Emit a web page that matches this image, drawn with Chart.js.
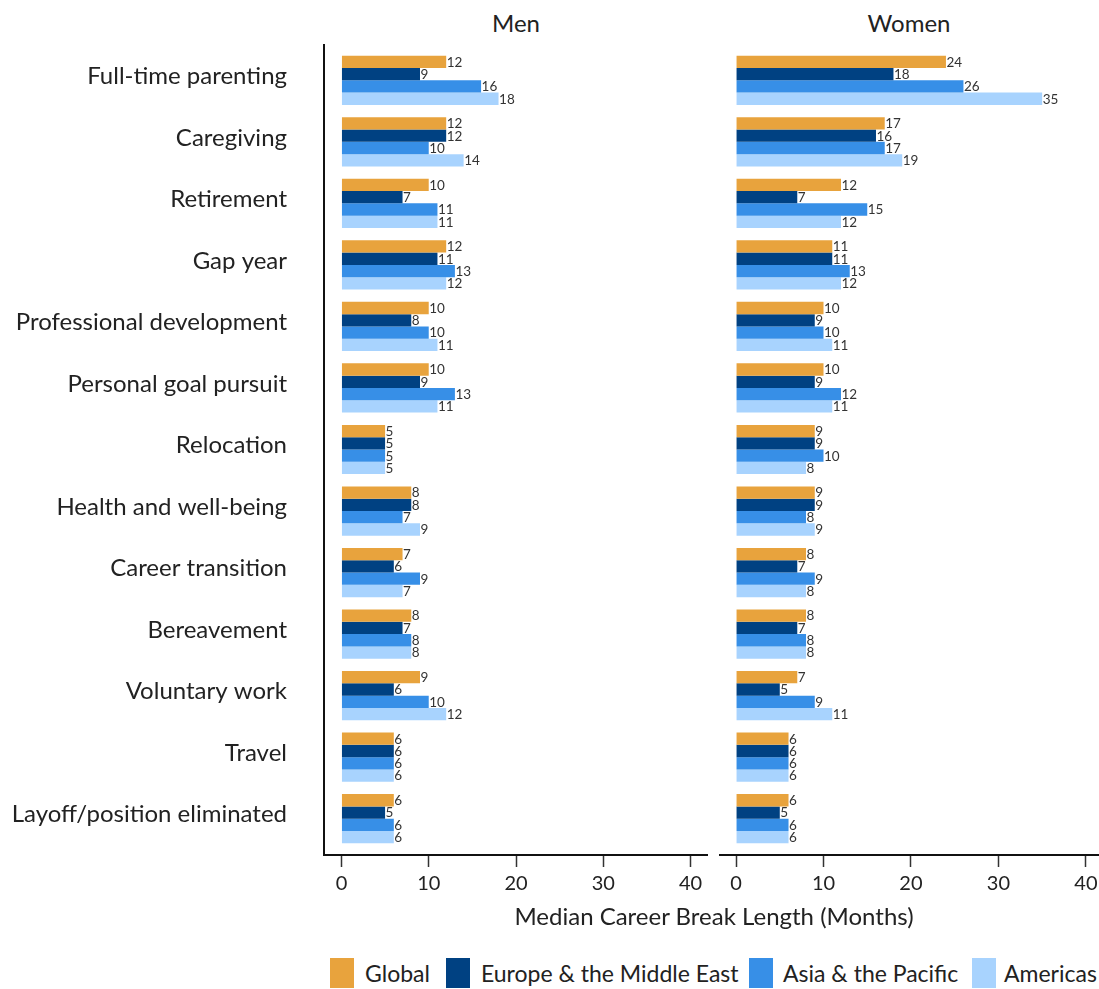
<!DOCTYPE html>
<html>
<head>
<meta charset="utf-8">
<script src="https://cdn.jsdelivr.net/npm/chart.js@4"></script>
<style>
  html, body { margin: 0; padding: 0; background: #fff; }
  body { width: 1099px; height: 989px; position: relative; overflow: hidden; font-family: Lato, "DejaVu Sans", sans-serif; color: #222; }
  .box { position: absolute; }
  .title { position: absolute; font-size: 24px; transform: translate(-50%, -50%); white-space: nowrap; }
  .leg { position: absolute; top: 958px; height: 30px; display: flex; align-items: center; font-size: 23px; white-space: nowrap; }
  .sw { position: absolute; top: 958px; width: 24px; height: 30px; }
</style>
</head>
<body>
<div class="title" style="left:516px;top:22px">Men</div>
<div class="title" style="left:909px;top:22px">Women</div>
<div class="box" style="left:0;top:44px;width:708px;height:861px"><canvas id="men"></canvas></div>
<div class="box" style="left:719px;top:44px;width:380px;height:861px"><canvas id="women"></canvas></div>
<div class="title" style="left:714px;top:915px;font-size:24px">Median Career Break Length (Months)</div>
<div id="legend"></div>
<script>
const categories = ["Full-time parenting", "Caregiving", "Retirement", "Gap year", "Professional development", "Personal goal pursuit", "Relocation", "Health and well-being", "Career transition", "Bereavement", "Voluntary work", "Travel", "Layoff/position eliminated"];
const seriesNames = ["Global", "Europe & the Middle East", "Asia & the Pacific", "Americas"];
const seriesColors = ["#E8A33D", "#004182", "#378FE7", "#A8D3FE"];

const menGlobal   = [12, 12, 10, 12, 10, 10, 5, 8, 7, 8, 9, 6, 6];
const menEurope   = [9, 12, 7, 11, 8, 9, 5, 8, 6, 7, 6, 6, 5];
const menAsia     = [16, 10, 11, 13, 10, 13, 5, 7, 9, 8, 10, 6, 6];
const menAmericas = [18, 14, 11, 12, 11, 11, 5, 9, 7, 8, 12, 6, 6];

const womenGlobal   = [24, 17, 12, 11, 10, 10, 9, 9, 8, 8, 7, 6, 6];
const womenEurope   = [18, 16, 7, 11, 9, 9, 9, 9, 7, 7, 5, 6, 5];
const womenAsia     = [26, 17, 15, 13, 10, 12, 10, 8, 9, 8, 9, 6, 6];
const womenAmericas = [35, 19, 12, 12, 11, 11, 8, 9, 8, 8, 11, 6, 6];

const xTicks = [0, 10, 20, 30, 40];

const labelPlugin = {
  id: 'barLabels',
  afterDatasetsDraw(chart) {
    const ctx = chart.ctx;
    ctx.save();
    ctx.font = '13.5px Lato, "DejaVu Sans", sans-serif';
    ctx.fillStyle = '#333';
    ctx.textAlign = 'left';
    ctx.textBaseline = 'middle';
    chart.data.datasets.forEach((ds, di) => {
      const meta = chart.getDatasetMeta(di);
      meta.data.forEach((el, i) => {
        ctx.fillText(String(ds.data[i].x), el.x + 0.5, el.y + 0.5);
      });
    });
    ctx.restore();
  }
};

function makeDatasets(arrs) {
  return arrs.map((vals, k) => ({
    label: seriesNames[k],
    data: vals.map((v, i) => ({ x: v, y: i })),
    backgroundColor: seriesColors[k],
    borderWidth: 0,
    categoryPercentage: 0.8,
    barPercentage: 1.0
  }));
}

function makeChart(id, arrs, showY, xmin, xmax) {
  return new Chart(document.getElementById(id), {
    type: 'bar',
    data: { datasets: makeDatasets(arrs) },
    plugins: [labelPlugin],
    options: {
      indexAxis: 'y',
      responsive: true,
      maintainAspectRatio: false,
      animation: false,
      layout: { padding: 0 },
      plugins: { legend: { display: false }, tooltip: { enabled: false }, title: { display: false } },
      scales: {
        x: {
          type: 'linear',
          min: xmin, max: xmax,
          afterBuildTicks: (s) => { s.ticks = xTicks.map(v => ({ value: v })); },
          afterFit: (s) => { s.height = 50; s.paddingLeft = 0; s.paddingRight = 0; },
          grid: { drawOnChartArea: false, drawTicks: true, tickLength: 12, tickColor: '#333', tickWidth: 1.5 },
          border: { display: true, color: '#111', width: 2 },
          ticks: { color: '#222', font: { size: 20, family: 'Lato, "DejaVu Sans", sans-serif' }, padding: 5, maxRotation: 0 }
        },
        y: {
          type: 'linear',
          display: showY,
          reverse: true,
          offset: false,
          min: -0.59, max: 12.59,
          afterBuildTicks: (s) => { s.ticks = categories.map((c, i) => ({ value: i })); },
          afterFit: (s) => { s.width = showY ? 324 : 0; s.paddingTop = 0; s.paddingBottom = 0; },
          grid: { display: true, offset: false, drawOnChartArea: false, drawTicks: false },
          border: { display: true, color: '#111', width: 2 },
          ticks: {
            color: '#222',
            font: { size: 24, family: 'Lato, "DejaVu Sans", sans-serif' },
            padding: 37,
            labelOffset: -4,
            callback: (v) => categories[v]
          }
        }
      }
    }
  });
}

makeChart('men', [menGlobal, menEurope, menAsia, menAmericas], true, -2, 42);
makeChart('women', [womenGlobal, womenEurope, womenAsia, womenAmericas], false, -1.95, 41.5);

// HTML legend
const legendPos = [[330, 365], [446, 481], [749, 783], [972, 1004]];
const lg = document.getElementById('legend');
seriesNames.forEach((n, k) => {
  const sw = document.createElement('div');
  sw.className = 'sw';
  sw.style.left = legendPos[k][0] + 'px';
  sw.style.background = seriesColors[k];
  lg.appendChild(sw);
  const t = document.createElement('div');
  t.className = 'leg';
  t.style.left = legendPos[k][1] + 'px';
  t.textContent = n;
  lg.appendChild(t);
});
</script>
</body>
</html>
